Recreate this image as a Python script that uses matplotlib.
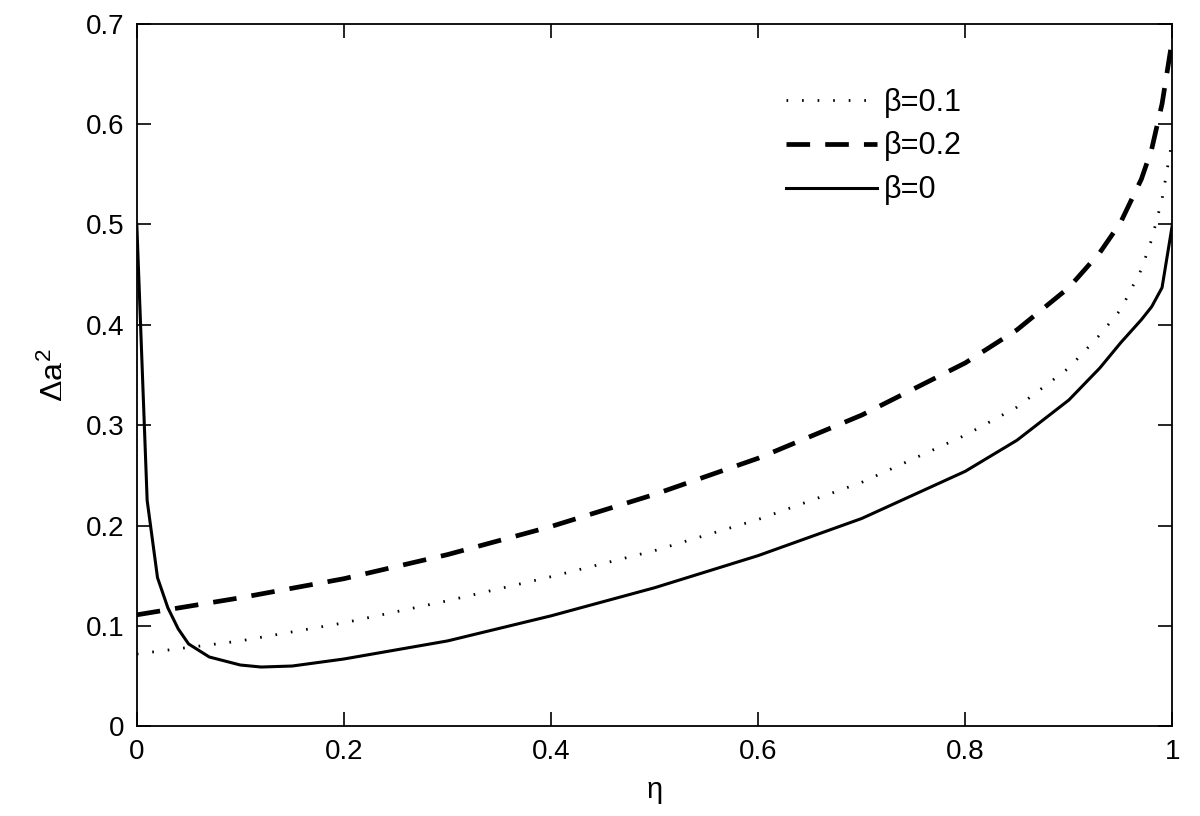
import matplotlib
matplotlib.use('Agg')
import matplotlib.pyplot as plt

plt.rcParams['font.family'] = ['Liberation Sans', 'DejaVu Sans']
plt.rcParams['mathtext.fontset'] = 'custom'
plt.rcParams['mathtext.rm'] = 'Liberation Sans'
plt.rcParams['mathtext.it'] = 'Liberation Sans'

# beta = 0 (solid)
eta0 = [0, 0.01, 0.02, 0.03, 0.04, 0.05, 0.07, 0.1, 0.12, 0.15, 0.2, 0.3, 0.4,
        0.5, 0.6, 0.7, 0.8, 0.85, 0.9, 0.93, 0.95, 0.97, 0.98, 0.99, 1.0]
beta0 = [0.5, 0.225, 0.148, 0.118, 0.097, 0.082, 0.069, 0.061, 0.059, 0.060,
         0.067, 0.085, 0.110, 0.138, 0.170, 0.207, 0.254, 0.285, 0.325, 0.357,
         0.382, 0.405, 0.418, 0.437, 0.5]

# beta = 0.1 (dotted) and 0.2 (dashed)
eta = [0, 0.1, 0.2, 0.3, 0.4, 0.5, 0.6, 0.7, 0.8, 0.85, 0.9, 0.93, 0.95,
       0.97, 0.98, 0.99, 1.0]
beta01 = [0.072, 0.085, 0.103, 0.125, 0.149, 0.175, 0.206, 0.243, 0.29, 0.318,
          0.357, 0.39, 0.415, 0.455, 0.485, 0.525, 0.585]
beta02 = [0.111, 0.128, 0.147, 0.171, 0.199, 0.231, 0.267, 0.31, 0.362, 0.395,
          0.437, 0.472, 0.502, 0.545, 0.575, 0.62, 0.685]

fig = plt.figure(figsize=(12, 8.16), dpi=100)
ax = fig.add_axes([0.114, 0.110, 0.863, 0.861])

ax.plot(eta, beta01, color='black', linestyle=(0, (0.6, 5.0)), linewidth=2.0, label='β=0.1')
ax.plot(eta, beta02, color='black', linestyle=(0, (5.0, 3.2)), linewidth=3.4, label='β=0.2')
ax.plot(eta0, beta0, color='black', linestyle='-', linewidth=2.2, label='β=0')

ax.set_xlim(0, 1)
ax.set_ylim(0, 0.7)
ax.set_xticks([0, 0.2, 0.4, 0.6, 0.8, 1])
ax.set_xticklabels(['0', '0.2', '0.4', '0.6', '0.8', '1'])
ax.set_yticks([0, 0.1, 0.2, 0.3, 0.4, 0.5, 0.6, 0.7])
ax.set_yticklabels(['0', '0.1', '0.2', '0.3', '0.4', '0.5', '0.6', '0.7'])
ax.tick_params(direction='in', top=True, right=True, length=10, width=1.2,
               labelsize=20, pad=9)
for s in ax.spines.values():
    s.set_linewidth(1.3)

ax.set_xlabel('η', fontsize=21, labelpad=8)
ax.set_ylabel(r'$\Delta a_{-}^{2}$', fontsize=23, labelpad=16)

ax.legend(loc='upper left', bbox_to_anchor=(0.60, 0.948), frameon=False,
          fontsize=22, handlelength=3.0, handletextpad=0.2, labelspacing=0.45)

fig.savefig('out.png', dpi=100)
